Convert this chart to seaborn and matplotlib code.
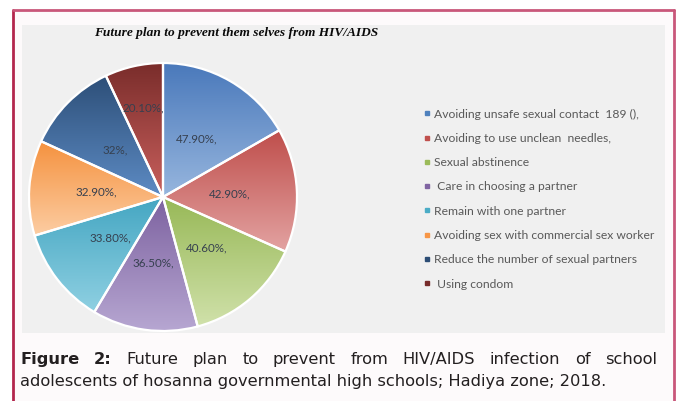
import numpy as np
import matplotlib
matplotlib.use("Agg")
import matplotlib.pyplot as plt
import seaborn as sns
from matplotlib.patches import Rectangle
from matplotlib.lines import Line2D
from matplotlib.colors import to_rgb

# ---------------- data ----------------
categories = [
    "Avoiding unsafe sexual contact  189 (),",
    "Avoiding to use unclean  needles,",
    "Sexual abstinence",
    " Care in choosing a partner",
    "Remain with one partner",
    "Avoiding sex with commercial sex worker",
    "Reduce the number of sexual partners",
    " Using condom",
]
values = [47.9, 42.9, 40.6, 36.5, 33.8, 32.9, 32.0, 20.1]
value_labels = ["47.90%,", "42.90%,", "40.60%,", "36.50%,", "33.80%,", "32.90%,", "32%,", "20.10%,"]
title = "Future plan to prevent them selves from HIV/AIDS"
caption_line1 = "Figure 2: Future plan to prevent from HIV/AIDS infection of school"
caption_line2 = "adolescents of hosanna governmental high schools; Hadiya zone; 2018."

top_colors = ["#4a79bb", "#bf4e4b", "#97b856", "#7d62a0", "#44a6c2", "#f5923f", "#2d4f78", "#7a2d2b"]
bottom_colors = ["#97b6de", "#e3a3a2", "#d0e1aa", "#b7a7d2", "#8fd0e2", "#fccda3", "#5d8bc4", "#c9605d"]
legend_colors = ["#4f81bd", "#c0504d", "#9bbb59", "#8064a2", "#4bacc6", "#f79646", "#2c4d75", "#772c2a"]

# ---------------- figure ----------------
sns.set_style("white")
W, H = 677, 401
fig = plt.figure(figsize=(W / 100, H / 100), dpi=100)
fig.patch.set_facecolor("white")

def fx(px):
    return px / W

def fy(py):
    return 1 - py / H

# framed area
fig.add_artist(Rectangle((fx(13), 0), fx(674) - fx(13), fy(9.5), transform=fig.transFigure,
                         facecolor="#fdfafb", edgecolor="none", zorder=-2))
fig.add_artist(Line2D([fx(13), fx(13)], [0, fy(9.5)], transform=fig.transFigure, color="#b3264d", lw=2.0))
fig.add_artist(Line2D([fx(674), fx(674)], [0, fy(9.5)], transform=fig.transFigure, color="#c9577a", lw=2.0))
fig.add_artist(Line2D([fx(13), fx(674)], [fy(9.5), fy(9.5)], transform=fig.transFigure, color="#c9577a", lw=2.0))
# grey chart panel
fig.add_artist(Rectangle((fx(22), fy(333)), fx(665) - fx(22), fy(25) - fy(333), transform=fig.transFigure,
                         facecolor="#f0f0f0", edgecolor="none", zorder=-1))

# ---------------- pie ----------------
cx, cy, R = 163, 197, 134
ax = fig.add_axes([fx(cx - R), fy(cy + R), fx(2 * R), fy(cy - R) - fy(cy + R)])
ax.set_zorder(3)
ax.set_facecolor("none")
palette = sns.color_palette(legend_colors)
wedges, _ = ax.pie(values, startangle=90, counterclock=False, colors=palette,
                   wedgeprops=dict(edgecolor="white", linewidth=1.6))

for w, c0, c1 in zip(wedges, top_colors, bottom_colors):
    verts = w.get_path().vertices
    xmin, xmax = verts[:, 0].min(), verts[:, 0].max()
    ymin, ymax = verts[:, 1].min(), verts[:, 1].max()
    t = np.linspace(0, 1, 128)[:, None]
    grad = (1 - t) * np.array(to_rgb(c0)) + t * np.array(to_rgb(c1))
    im = ax.imshow(grad[:, None, :], extent=(xmin, xmax, ymin, ymax), origin="upper",
                   aspect="auto", interpolation="bilinear", zorder=1)
    im.set_clip_path(w)
    w.set_facecolor("none")
    w.set_zorder(2)

label_r = [0.5, 0.5, 0.5, 0.5, 0.5, 0.5, 0.5, 0.68]
for w, lab, r in zip(wedges, value_labels, label_r):
    ang = np.deg2rad((w.theta1 + w.theta2) / 2)
    ax.text(r * np.cos(ang), r * np.sin(ang), lab, ha="center", va="center",
            fontsize=8.4, family="Lato", color="#36404f", zorder=3)

ax.set_xlim(-1.0, 1.0)
ax.set_ylim(-1.0, 1.0)
ax.set_aspect("equal")
ax.axis("off")

# ---------------- legend ----------------
handles = [Line2D([], [], marker="s", linestyle="none", markersize=3.4,
                  markerfacecolor=c, markeredgecolor=c) for c in palette]
leg = fig.legend(handles, categories, loc="upper left", bbox_to_anchor=(fx(424), fy(108.5)),
                 frameon=False, handlelength=0.5, handletextpad=0.35,
                 labelspacing=1.1, borderaxespad=0, borderpad=0,
                 prop=dict(family="Lato", size=8.7))
for t in leg.get_texts():
    t.set_color("#595959")

# ---------------- title ----------------
fig.text(fx(236), fy(33), title, ha="center", va="center", family="Liberation Serif",
         weight="bold", style="italic", fontsize=9.6, color="#0a0a0a")

# ---------------- caption ----------------
fig.canvas.draw()
rend = fig.canvas.get_renderer()
words = caption_line1.split(" ")
bold_n = 2
txts = []
for i, wd in enumerate(words):
    txts.append(fig.text(0, fy(364), wd, ha="left", va="baseline", family="DejaVu Sans",
                         weight="bold" if i < bold_n else "normal", fontsize=11.7, color="#231f20"))
widths = [t.get_window_extent(rend).width for t in txts]
x0, x1 = 20, 657
gap = (x1 - x0 - sum(widths)) / (len(words) - 1)
x = x0
for t, wdt in zip(txts, widths):
    t.set_x(fx(x))
    x += wdt + gap
fig.text(fx(20), fy(386), caption_line2, ha="left", va="baseline", family="DejaVu Sans",
         fontsize=11.7, color="#231f20")

fig.savefig("out.png", dpi=100)
